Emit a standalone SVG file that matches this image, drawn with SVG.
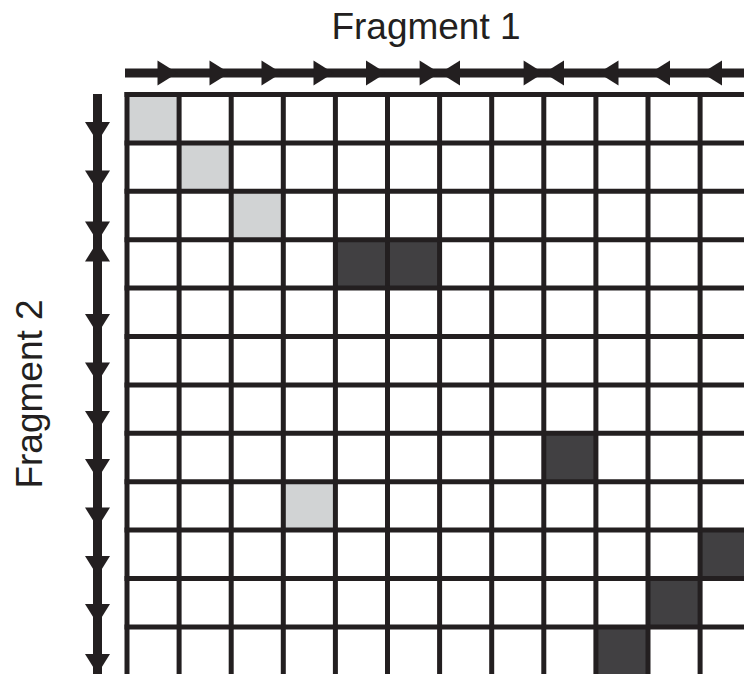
<svg xmlns="http://www.w3.org/2000/svg" xmlns:xlink="http://www.w3.org/1999/xlink" width="744" height="674" viewBox="0 0 744 674">
<style>
.lbl{font-family:"Liberation Sans",Arial,sans-serif;font-size:37px;fill:#231f20}
.grid line{stroke:#231f20;stroke-width:5}
.light{fill:#d1d3d4}
.dark{fill:#414042}
.axis{stroke:#231f20;stroke-width:9;fill:none}
.head{fill:#231f20}
</style>
<defs>
<path id="ah" d="M0,0 L-20,-12.5 L-20,12.5 Z"/>
</defs>
<rect width="744" height="674" fill="#ffffff"/>
<g id="label-fragment1"><text class="lbl" x="426" y="39" text-anchor="middle">Fragment 1</text></g>
<g id="label-fragment2"><text class="lbl" transform="translate(42,394) rotate(-90)" text-anchor="middle">Fragment 2</text></g>
<g id="cells">
<rect class="light" x="127" y="94.5" width="52.1" height="48.4"/>
<rect class="light" x="179.1" y="142.9" width="52.1" height="48.4"/>
<rect class="light" x="231.2" y="191.3" width="52.1" height="48.4"/>
<rect class="dark" x="335.4" y="239.7" width="104.2" height="48.4"/>
<rect class="dark" x="543.8" y="433.3" width="52.1" height="48.4"/>
<rect class="light" x="283.3" y="481.7" width="52.1" height="48.4"/>
<rect class="dark" x="700.1" y="530.1" width="52.1" height="48.4"/>
<rect class="dark" x="648" y="578.5" width="52.1" height="48.4"/>
<rect class="dark" x="595.9" y="626.9" width="52.1" height="48.4"/>
</g>
<g id="grid" class="grid">
<line x1="127" y1="92" x2="127" y2="674"/>
<line x1="179.1" y1="92" x2="179.1" y2="674"/>
<line x1="231.2" y1="92" x2="231.2" y2="674"/>
<line x1="283.3" y1="92" x2="283.3" y2="674"/>
<line x1="335.4" y1="92" x2="335.4" y2="674"/>
<line x1="387.5" y1="92" x2="387.5" y2="674"/>
<line x1="439.6" y1="92" x2="439.6" y2="674"/>
<line x1="491.7" y1="92" x2="491.7" y2="674"/>
<line x1="543.8" y1="92" x2="543.8" y2="674"/>
<line x1="595.9" y1="92" x2="595.9" y2="674"/>
<line x1="648" y1="92" x2="648" y2="674"/>
<line x1="700.1" y1="92" x2="700.1" y2="674"/>
<line x1="124.5" y1="94.5" x2="744" y2="94.5"/>
<line x1="124.5" y1="142.9" x2="744" y2="142.9"/>
<line x1="124.5" y1="191.3" x2="744" y2="191.3"/>
<line x1="124.5" y1="239.7" x2="744" y2="239.7"/>
<line x1="124.5" y1="288.1" x2="744" y2="288.1"/>
<line x1="124.5" y1="336.5" x2="744" y2="336.5"/>
<line x1="124.5" y1="384.9" x2="744" y2="384.9"/>
<line x1="124.5" y1="433.3" x2="744" y2="433.3"/>
<line x1="124.5" y1="481.7" x2="744" y2="481.7"/>
<line x1="124.5" y1="530.1" x2="744" y2="530.1"/>
<line x1="124.5" y1="578.5" x2="744" y2="578.5"/>
<line x1="124.5" y1="626.9" x2="744" y2="626.9"/>
</g>
<g id="connectors">
<line class="axis" x1="125" y1="73" x2="744" y2="73"/>
<line class="axis" x1="97.5" y1="94" x2="97.5" y2="674"/>
<g class="head">
<use xlink:href="#ah" transform="translate(177.5,73)"/>
<use xlink:href="#ah" transform="translate(229.5,73)"/>
<use xlink:href="#ah" transform="translate(281.5,73)"/>
<use xlink:href="#ah" transform="translate(333.5,73)"/>
<use xlink:href="#ah" transform="translate(386,73)"/>
<use xlink:href="#ah" transform="translate(439.6,73)"/>
<use xlink:href="#ah" transform="translate(440,73) rotate(180)"/>
<use xlink:href="#ah" transform="translate(543.6,73)"/>
<use xlink:href="#ah" transform="translate(544,73) rotate(180)"/>
<use xlink:href="#ah" transform="translate(598.5,73) rotate(180)"/>
<use xlink:href="#ah" transform="translate(650,73) rotate(180)"/>
<use xlink:href="#ah" transform="translate(702,73) rotate(180)"/>
<use xlink:href="#ah" transform="translate(97.5,142) rotate(90)"/>
<use xlink:href="#ah" transform="translate(97.5,190.5) rotate(90)"/>
<use xlink:href="#ah" transform="translate(97.5,241.5) rotate(90)"/>
<use xlink:href="#ah" transform="translate(97.5,241.5) rotate(-90)"/>
<use xlink:href="#ah" transform="translate(97.5,334) rotate(90)"/>
<use xlink:href="#ah" transform="translate(97.5,382.5) rotate(90)"/>
<use xlink:href="#ah" transform="translate(97.5,431) rotate(90)"/>
<use xlink:href="#ah" transform="translate(97.5,479) rotate(90)"/>
<use xlink:href="#ah" transform="translate(97.5,527.5) rotate(90)"/>
<use xlink:href="#ah" transform="translate(97.5,576) rotate(90)"/>
<use xlink:href="#ah" transform="translate(97.5,624) rotate(90)"/>
<use xlink:href="#ah" transform="translate(97.5,674) rotate(90)"/>
</g>
</g>
</svg>
